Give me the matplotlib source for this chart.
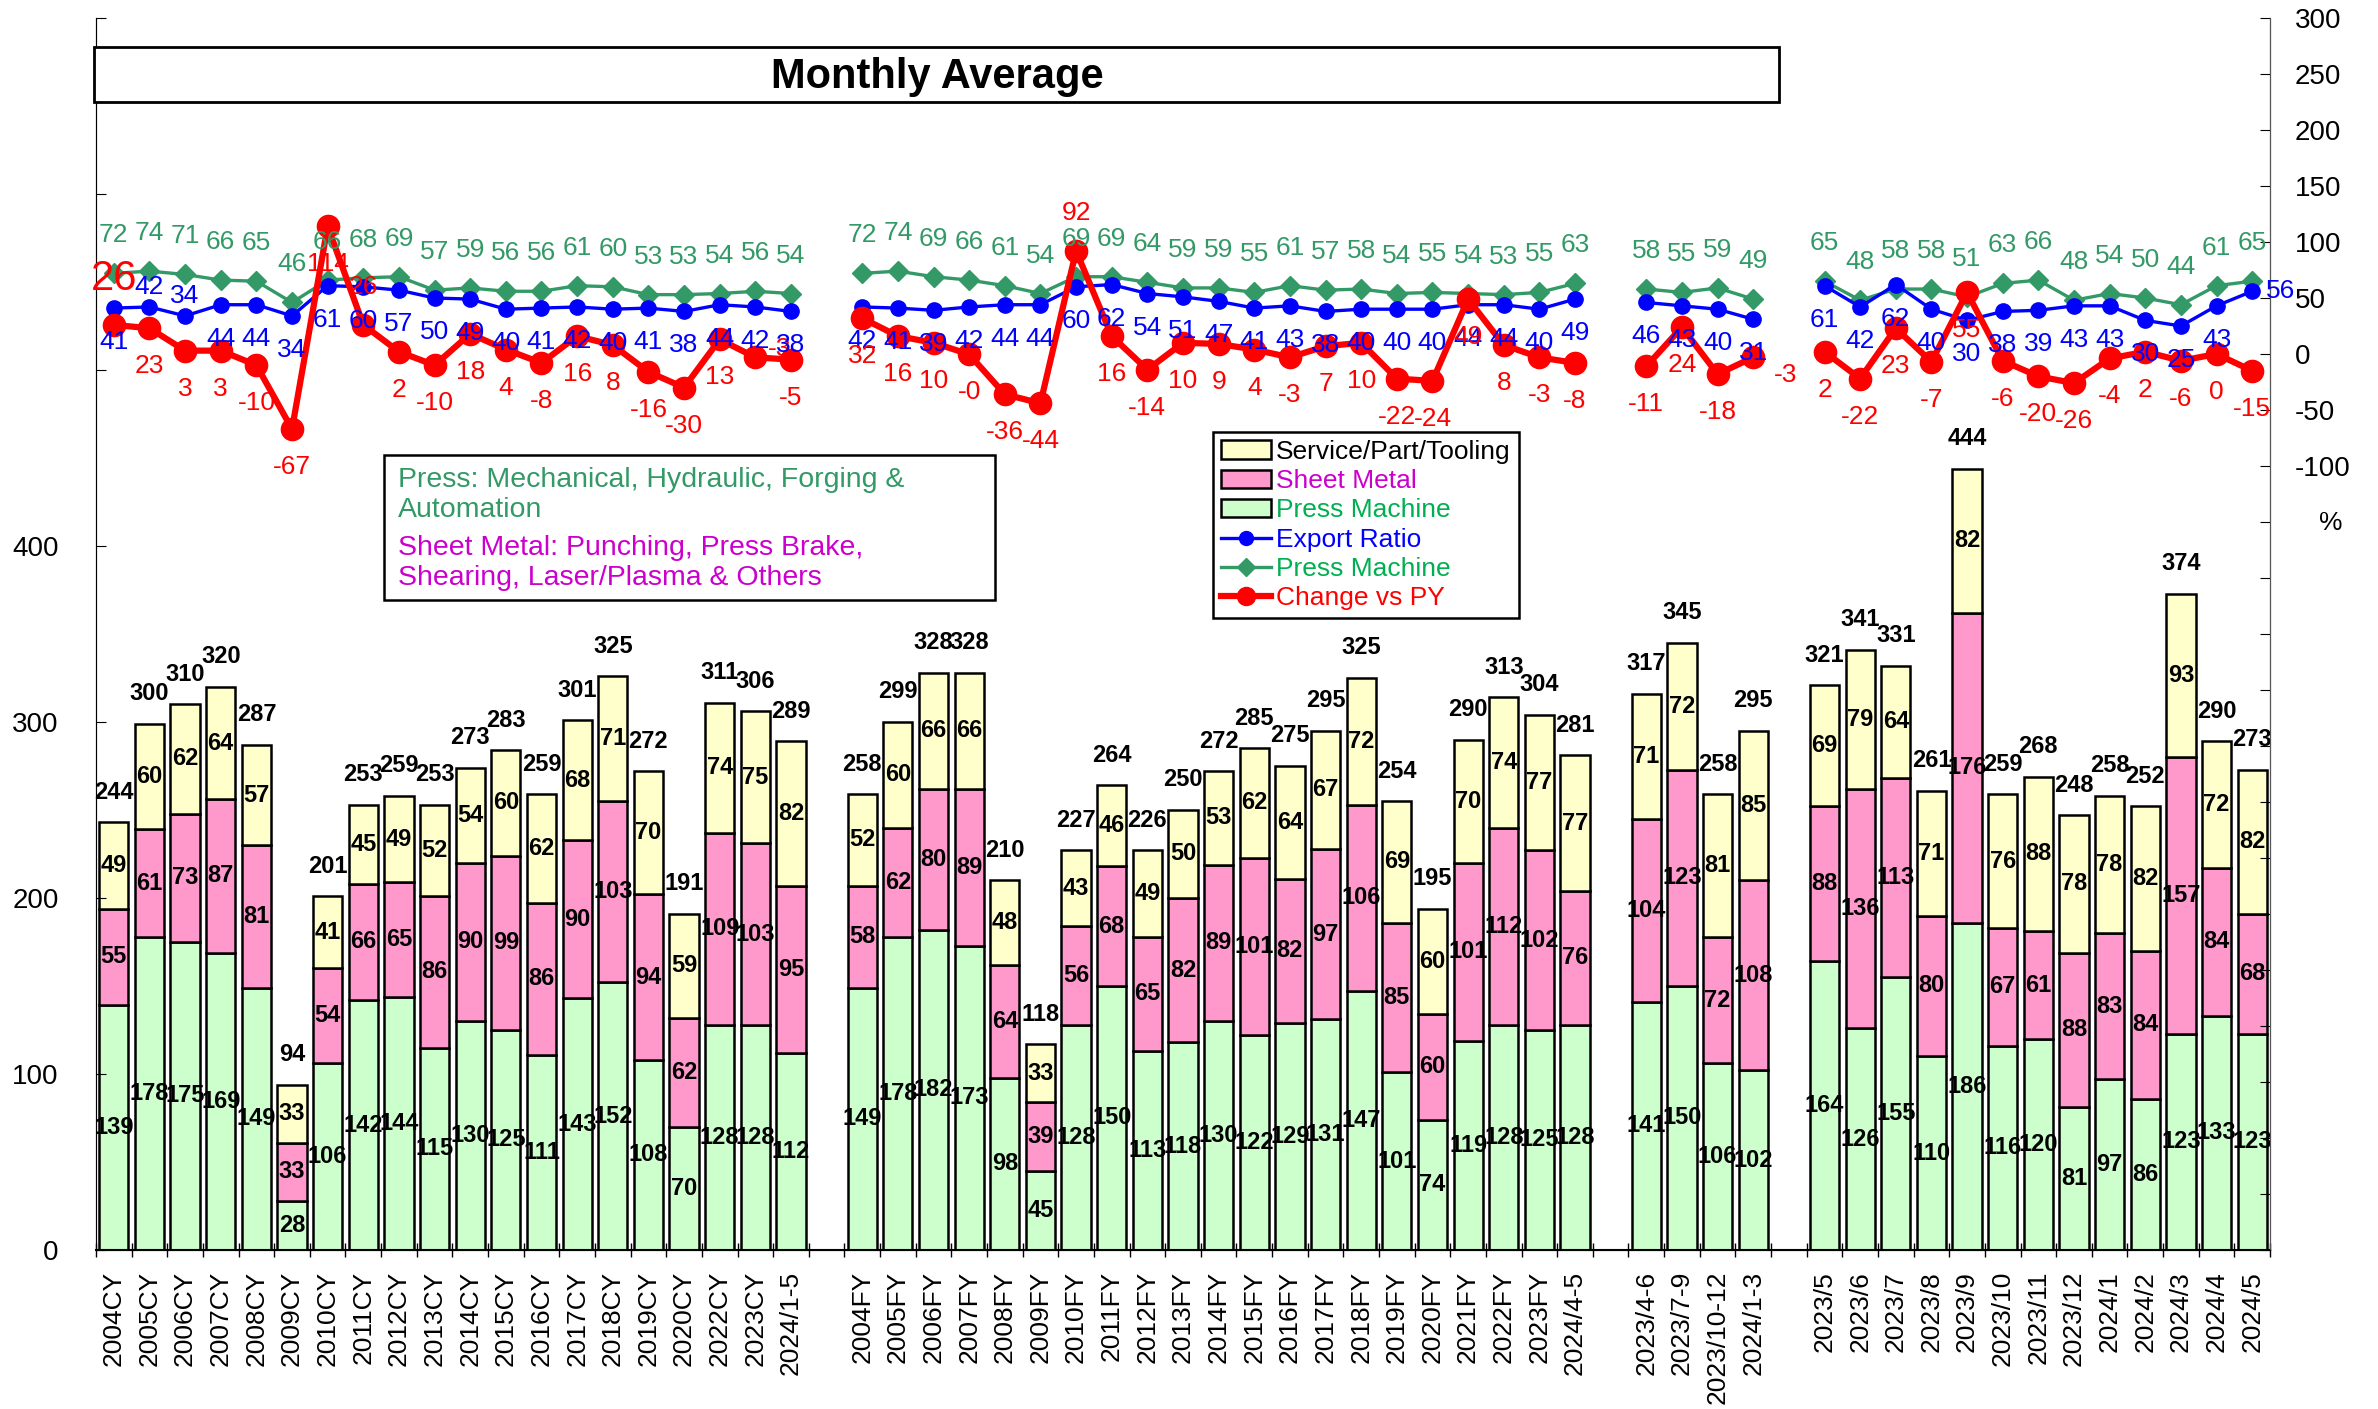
import numpy as np
import matplotlib
matplotlib.use('Agg')
import matplotlib.pyplot as plt
from matplotlib.patches import Rectangle, Patch
from matplotlib.lines import Line2D
from matplotlib.ticker import FixedLocator, FixedFormatter

plt.rcParams['font.family'] = ['Liberation Sans', 'DejaVu Sans']

# ---- data: calendar years ----
cy_labels = ['2004CY', '2005CY', '2006CY', '2007CY', '2008CY', '2009CY', '2010CY',
             '2011CY', '2012CY', '2013CY', '2014CY', '2015CY', '2016CY', '2017CY',
             '2018CY', '2019CY', '2020CY', '2022CY', '2023CY', '2024/1-5']
cy_press = [139, 178, 175, 169, 149, 28, 106, 142, 144, 115, 130, 125, 111, 143, 152, 108, 70, 128, 128, 112]
cy_sheet = [55, 61, 73, 87, 81, 33, 54, 66, 65, 86, 90, 99, 86, 90, 103, 94, 62, 109, 103, 95]
cy_service = [49, 60, 62, 64, 57, 33, 41, 45, 49, 52, 54, 60, 62, 68, 71, 70, 59, 74, 75, 82]
cy_total = [244, 300, 310, 320, 287, 94, 201, 253, 259, 253, 273, 283, 259, 301, 325, 272, 191, 311, 306, 289]
cy_press_pct = [72, 74, 71, 66, 65, 46, 66, 68, 69, 57, 59, 56, 56, 61, 60, 53, 53, 54, 56, 54]
cy_export = [41, 42, 34, 44, 44, 34, 61, 60, 57, 50, 49, 40, 41, 42, 40, 41, 38, 44, 42, 38]
cy_change = [26, 23, 3, 3, -10, -67, 114, 26, 2, -10, 18, 4, -8, 16, 8, -16, -30, 13, -3, -5]

# ---- data: fiscal years ----
fy_labels = ['2004FY', '2005FY', '2006FY', '2007FY', '2008FY', '2009FY', '2010FY',
             '2011FY', '2012FY', '2013FY', '2014FY', '2015FY', '2016FY', '2017FY',
             '2018FY', '2019FY', '2020FY', '2021FY', '2022FY', '2023FY', '2024/4-5']
fy_press = [149, 178, 182, 173, 98, 45, 128, 150, 113, 118, 130, 122, 129, 131, 147, 101, 74, 119, 128, 125, 128]
fy_sheet = [58, 62, 80, 89, 64, 39, 56, 68, 65, 82, 89, 101, 82, 97, 106, 85, 60, 101, 112, 102, 76]
fy_service = [52, 60, 66, 66, 48, 33, 43, 46, 49, 50, 53, 62, 64, 67, 72, 69, 60, 70, 74, 77, 77]
fy_total = [258, 299, 328, 328, 210, 118, 227, 264, 226, 250, 272, 285, 275, 295, 325, 254, 195, 290, 313, 304, 281]
fy_press_pct = [72, 74, 69, 66, 61, 54, 69, 69, 64, 59, 59, 55, 61, 57, 58, 54, 55, 54, 53, 55, 63]
fy_export = [42, 41, 39, 42, 44, 44, 60, 62, 54, 51, 47, 41, 43, 38, 40, 40, 40, 44, 44, 40, 49]
fy_change = [32, 16, 10, -0.3, -36, -44, 92, 16, -14, 10, 9, 4, -3, 7, 10, -22, -24, 49, 8, -3, -8]

# ---- data: quarters ----
q_labels = ['2023/4-6', '2023/7-9', '2023/10-12', '2024/1-3']
q_press = [141, 150, 106, 102]
q_sheet = [104, 123, 72, 108]
q_service = [71, 72, 81, 85]
q_total = [317, 345, 258, 295]
q_press_pct = [58, 55, 59, 49]
q_export = [46, 43, 40, 31]
q_change = [-11, 24, -18, -3]

# ---- data: months ----
m_labels = ['2023/5', '2023/6', '2023/7', '2023/8', '2023/9', '2023/10', '2023/11',
            '2023/12', '2024/1', '2024/2', '2024/3', '2024/4', '2024/5']
m_press = [164, 126, 155, 110, 186, 116, 120, 81, 97, 86, 123, 133, 123]
m_sheet = [88, 136, 113, 80, 176, 67, 61, 88, 83, 84, 157, 84, 68]
m_service = [69, 79, 64, 71, 82, 76, 88, 78, 78, 82, 93, 72, 82]
m_total = [321, 341, 331, 261, 444, 259, 268, 248, 258, 252, 374, 290, 273]
m_press_pct = [65, 48, 58, 58, 51, 63, 66, 48, 54, 50, 44, 61, 65]
m_export = [61, 42, 62, 40, 30, 38, 39, 43, 43, 30, 25, 43, 56]
m_change = [2, -22, 23, -7, 55, -6, -20, -26, -4, 2, -6, 0, -15]

groups = [
    (cy_labels, cy_press, cy_sheet, cy_service, cy_total, cy_press_pct, cy_export, cy_change),
    (fy_labels, fy_press, fy_sheet, fy_service, fy_total, fy_press_pct, fy_export, fy_change),
    (q_labels, q_press, q_sheet, q_service, q_total, q_press_pct, q_export, q_change),
    (m_labels, m_press, m_sheet, m_service, m_total, m_press_pct, m_export, m_change),
]

# colours
C_PRESS = '#CCFFCC'
C_SHEET = '#FF99CC'
C_SERVICE = '#FFFFCC'
C_GREEN = '#339966'
C_BLUE = '#0000FF'
C_RED = '#FF0000'

LBL = 19  # size of the line value labels

# label placement tweaks (pixels)
red_label_style = {'2004CY': ((0, 46), 30), '2011CY': ((0, 38), LBL),
                   '2010FY': ((0, 38), LBL), '2023CY': ((24, 8), LBL),
                   '2024/1-3': ((32, -18), LBL)}
blue_label_style = {'2005CY': (0, 20), '2006CY': (0, 20), '2024/5': (28, 0)}

W, H = 2378, 1409
fig = plt.figure(figsize=(W / 100, H / 100), dpi=100)
ax = fig.add_axes([96 / W, 1 - 1250 / H, (2270 - 96) / W, (1250 - 18) / H])
ax2 = ax.twinx()

all_pos = []
all_labels = []
start = 0
for labels, press, sheet, service, total, ppct, export, change in groups:
    pos = start + np.arange(len(labels))
    start += len(labels) + 1
    all_pos.extend(pos)
    all_labels.extend(labels)
    press = np.array(press)
    sheet = np.array(sheet)
    service = np.array(service)
    bw = 0.82
    ax.bar(pos, press, bw, color=C_PRESS, edgecolor='black', linewidth=1.8)
    ax.bar(pos, sheet, bw, bottom=press, color=C_SHEET, edgecolor='black', linewidth=1.8)
    ax.bar(pos, service, bw, bottom=press + sheet, color=C_SERVICE, edgecolor='black', linewidth=1.8)
    for x, a, b, c, t in zip(pos, press, sheet, service, total):
        for val, bot in ((a, 0), (b, a), (c, a + b)):
            ax.text(x, bot + val / 2, f'{val}', ha='center', va='center',
                    fontsize=17, fontweight='bold')
        ax.annotate(f'{t}', (x, a + b + c), xytext=(0, 30), textcoords='offset pixels',
                    ha='center', va='center', fontsize=17, fontweight='bold')

    # lines on the right axis
    ax2.plot(pos, ppct, color=C_GREEN, lw=2.4, marker='D', ms=10.5, zorder=3)
    ax2.plot(pos, export, color=C_BLUE, lw=2.4, marker='o', ms=11, zorder=4)
    ax2.plot(pos, change, color=C_RED, lw=4.5, marker='o', ms=16, zorder=5)
    for x, lab, gv, bv, rv in zip(pos, labels, ppct, export, change):
        ax2.annotate(f'{gv}', (x, gv), xytext=(0, 38), textcoords='offset pixels',
                     ha='center', va='center', fontsize=LBL, color=C_GREEN, zorder=6)
        boff = blue_label_style.get(lab, (0, -34))
        ax2.annotate(f'{bv}', (x, bv), xytext=boff, textcoords='offset pixels',
                     ha='center', va='center', fontsize=LBL, color=C_BLUE, zorder=6)
        roff, rsize = red_label_style.get(lab, ((0, -38), LBL))
        ax2.annotate(f'{rv:.0f}', (x, rv), xytext=roff, textcoords='offset pixels',
                     ha='center', va='center', fontsize=rsize, color=C_RED, zorder=6)

# axes setup
ax.set_xlim(-0.5, start - 1.5)
ax.set_ylim(0, 700)
ax2.set_ylim(-800, 300)

ax.set_xticks(all_pos)
ax.set_xticklabels(all_labels, rotation=90, fontsize=19)
ax.tick_params(axis='x', length=0, pad=15)
bounds = sorted(set([p - 0.5 for p in all_pos] + [p + 0.5 for p in all_pos]))
ax.xaxis.set_minor_locator(FixedLocator(bounds))
ax.tick_params(axis='x', which='minor', direction='inout', length=10, width=1)

lticks = np.arange(0, 701, 100)
ax.yaxis.set_major_locator(FixedLocator(lticks))
ax.yaxis.set_major_formatter(FixedFormatter([f'{v}' if v <= 400 else '' for v in lticks]))
ax.tick_params(axis='y', direction='in', length=7, pad=27, labelsize=20)

rticks = np.arange(-800, 301, 50)
ax2.yaxis.set_major_locator(FixedLocator(rticks))
ax2.yaxis.set_major_formatter(FixedFormatter([f'{v}' if v >= -100 else '' for v in rticks]))
ax2.tick_params(axis='y', direction='in', length=7, pad=18, labelsize=20)

for a in (ax, ax2):
    a.spines['top'].set_visible(False)
ax.spines['bottom'].set_linewidth(1.5)
ax.spines['left'].set_color('#555555')
ax2.spines['right'].set_color('#555555')

fig.text(2331 / W, 1 - 523 / H, '%', fontsize=19, ha='center', va='center')

# title box
fig.add_artist(Rectangle((94 / W, 1 - 102 / H), (1779 - 94) / W, 55 / H,
                         transform=fig.transFigure, facecolor='white',
                         edgecolor='black', linewidth=2))
fig.text(937 / W, 1 - 88 / H, 'Monthly Average', fontsize=30, fontweight='bold',
         ha='center', va='baseline')

# note box
fig.add_artist(Rectangle((384 / W, 1 - 600 / H), (995 - 384) / W, 145 / H,
                         transform=fig.transFigure, facecolor='white',
                         edgecolor='black', linewidth=1.8))
fig.text(398 / W, 1 - 495 / H, 'Press: Mechanical, Hydraulic, Forging &\nAutomation',
         fontsize=20.5, color=C_GREEN, ha='left', va='center', linespacing=1.2)
fig.text(398 / W, 1 - 563 / H, 'Sheet Metal: Punching, Press Brake,\nShearing, Laser/Plasma & Others',
         fontsize=20.5, color='#CC00CC', ha='left', va='center', linespacing=1.2)

# legend
handles = [
    Patch(facecolor=C_SERVICE, edgecolor='black', linewidth=1.8),
    Patch(facecolor=C_SHEET, edgecolor='black', linewidth=1.8),
    Patch(facecolor=C_PRESS, edgecolor='black', linewidth=1.8),
    Line2D([], [], color=C_BLUE, lw=2.4, marker='o', ms=10),
    Line2D([], [], color=C_GREEN, lw=2.4, marker='D', ms=9),
    Line2D([], [], color=C_RED, lw=4.5, marker='o', ms=13),
]
names = ['Service/Part/Tooling', 'Sheet Metal', 'Press Machine', 'Export Ratio',
         'Press Machine', 'Change vs PY']
text_colors = ['black', '#CC00CC', '#00B050', C_BLUE, '#00B050', C_RED]
leg = ax2.legend(handles, names, loc='upper left', bbox_to_anchor=(1213 / W, 1 - 432 / H),
                 bbox_transform=fig.transFigure, borderaxespad=0, fontsize=19,
                 frameon=True, fancybox=False, framealpha=1, edgecolor='black',
                 handlelength=1.9, handletextpad=0.2, labelspacing=0.2, borderpad=0.3)
leg.get_frame().set_linewidth(1.8)
for t, c in zip(leg.get_texts(), text_colors):
    t.set_color(c)
leg.set_zorder(10)

fig.savefig('out.png', dpi=100)
